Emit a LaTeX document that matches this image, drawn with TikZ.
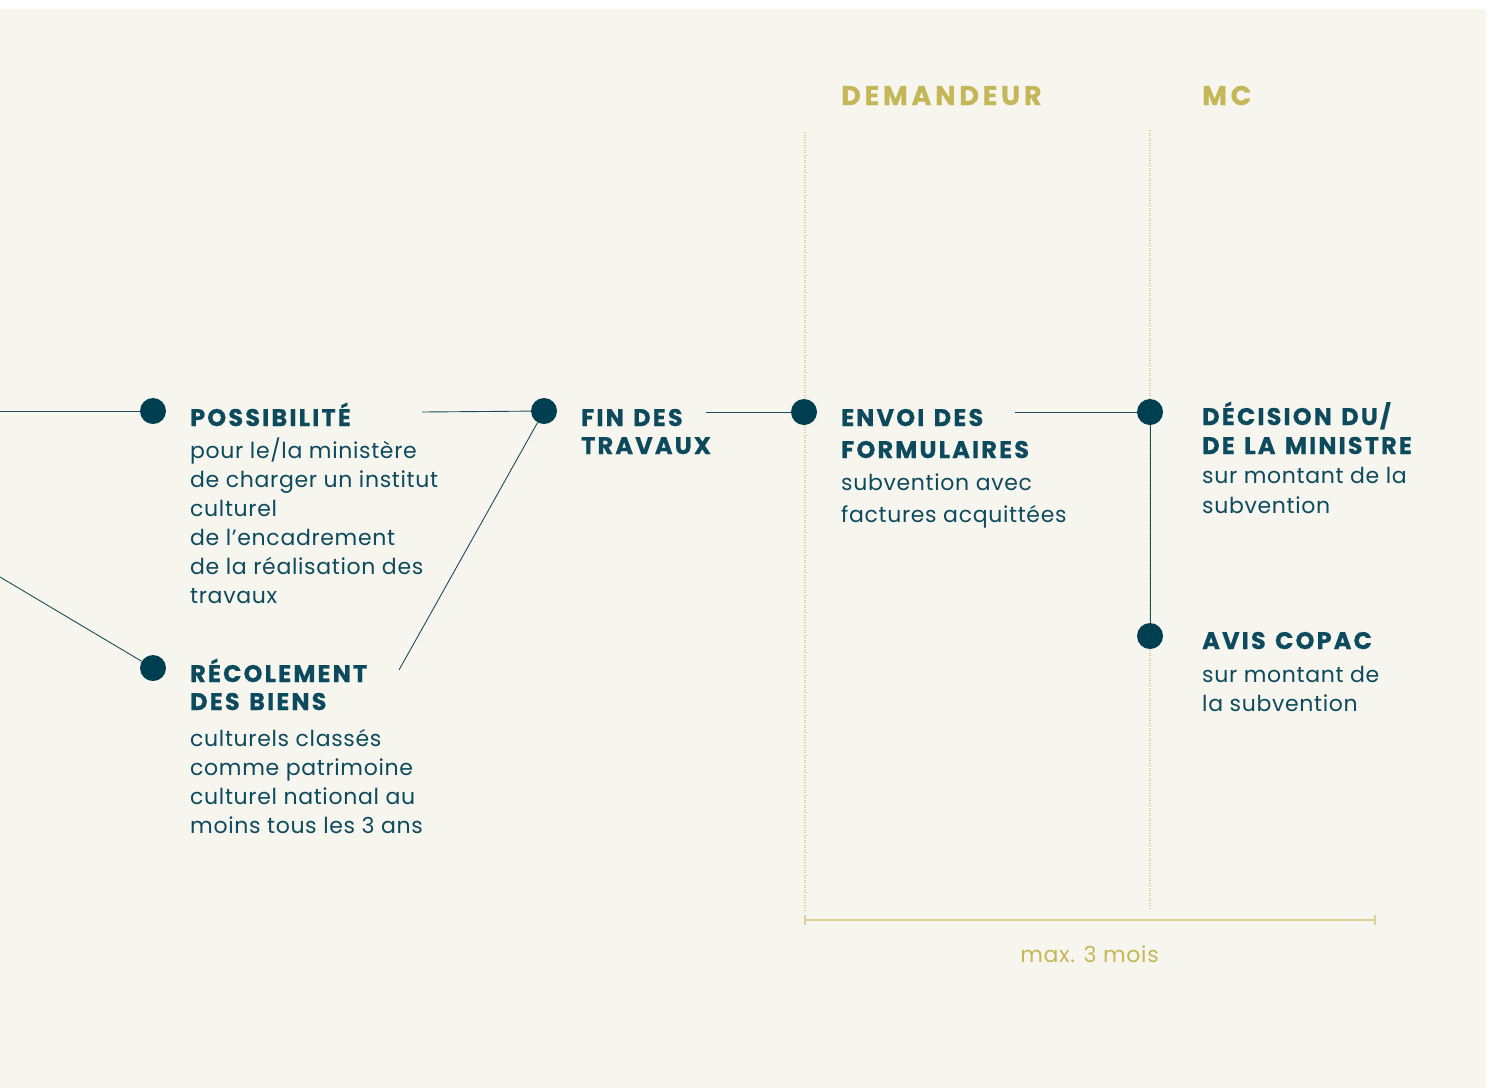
\documentclass[tikz,border=0pt]{standalone}
\usepackage{fontspec}
\setmainfont{Poppins}
\newfontfamily\bodyfont[LetterSpace=3]{Poppins}
\newfontfamily\titlefont[LetterSpace=9,WordSpace=1.3,FakeBold=0.6]{Poppins}
\newfontfamily\headfont[LetterSpace=14,FakeBold=0.4]{Poppins}
\definecolor{bgc}{HTML}{F6F6EE}
\definecolor{dotc}{HTML}{003F52}
\definecolor{linec}{HTML}{1C4C5E}
\definecolor{txtc}{HTML}{0D4A5E}
\definecolor{goldc}{HTML}{C5B758}
\definecolor{guidec}{HTML}{D8CE92}
\definecolor{barc}{HTML}{DCD196}
\newcommand\stk[2]{\vtop{\baselineskip=#1pt\relax #2}}
\newcommand\lin[1]{\hbox{#1}}
\tikzset{
  dot/.style={circle, fill=dotc, draw=none, minimum size=26pt, inner sep=0pt},
  conn/.style={draw=linec, line width=0.9pt},
  guide/.style={draw=guidec, line width=1.1pt, dash pattern=on 1pt off 1.5pt},
  bar/.style={draw=barc, line width=2pt},
  tick/.style={draw=barc, line width=1.2pt},
  ttl/.style={anchor=base west, inner sep=0pt, text=txtc, font=\titlefont\bfseries\fontsize{24}{28}\selectfont},
  bdy/.style={anchor=base west, inner sep=0pt, text=txtc, font=\bodyfont\fontsize{22}{29}\selectfont},
  hdr/.style={anchor=base west, inner sep=0pt, text=goldc, font=\headfont\bfseries\fontsize{27}{30}\selectfont},
  note/.style={anchor=base, inner sep=0pt, text=goldc, font=\bodyfont\fontsize{22}{29}\selectfont}
}
\begin{document}
\begin{tikzpicture}[x=1pt,y=-1pt]
\useasboundingbox (0,0) rectangle (1493,1088);
\fill[white] (0,0) rectangle (1493,1088);
\fill[bgc] (0,9) rectangle (1486,1088);

% guides
\coordinate (g1t) at (805,132); \coordinate (g1b) at (805,910);
\coordinate (g2t) at (1150,130); \coordinate (g2b) at (1150,909);
\draw[guide] (g1t) -- (g1b);
\draw[guide] (g2t) -- (g2b);

% bracket
\coordinate (bl) at (805,920); \coordinate (br) at (1375,920);
\coordinate (blt) at (805,915); \coordinate (blb) at (805,925);
\coordinate (brt) at (1375,915); \coordinate (brb) at (1375,925);
\draw[bar] (bl) -- (br);
\draw[tick] (blt) -- (blb);
\draw[tick] (brt) -- (brb);
\node[note] (max) at (1089.5,962) {max. 3 mois};

% headers
\node[hdr] (h1) at (841,105) {DEMANDEUR};
\node[hdr] (h2) at (1202,105) {MC};

% dots
\node[dot] (d1) at (153,411) {};
\node[dot] (d2) at (153,668) {};
\node[dot] (d3) at (544,411) {};
\node[dot] (d4) at (804,412) {};
\node[dot] (d5) at (1150,412) {};
\node[dot] (d6) at (1150,636) {};

% connector ends
\coordinate (e0) at (0,411);
\coordinate (e1) at (0,577);
\coordinate (c1) at (422,412);
\coordinate (c2) at (399,670);
\coordinate (c3) at (706,412);
\coordinate (c4) at (1015,412);

\draw[conn] (e0) -- (d1);
\draw[conn] (e1) -- (d2);
\draw[conn] (c1) -- (d3);
\draw[conn] (c2) -- (d3);
\draw[conn] (c3) -- (d4);
\draw[conn] (c4) -- (d5);
\draw[conn] (d5) -- (d6);

% texts
\node[ttl] (t1) at (190,426) {\stk{28}{\lin{POSSIBILITÉ}}};
\node[bdy] (b1) at (190,458) {\stk{29}{\lin{pour le/la ministère}\lin{de charger un institut}\lin{culturel}\lin{de l’encadrement}\lin{de la réalisation des}\lin{travaux}}};

\node[ttl] (t2) at (190,682) {\stk{28}{\lin{RÉCOLEMENT}\lin{DES BIENS}}};
\node[bdy] (b2) at (190,746) {\stk{29}{\lin{culturels classés}\lin{comme patrimoine}\lin{culturel national au}\lin{moins tous les 3 ans}}};

\node[ttl] (t3) at (581,426) {\stk{28}{\lin{FIN DES}\lin{TRAVAUX}}};

\node[ttl] (t4) at (841,426) {\stk{32}{\lin{ENVOI DES}\lin{FORMULAIRES}}};
\node[bdy] (b4) at (841,490) {\stk{32}{\lin{subvention avec}\lin{factures acquittées}}};

\node[ttl] (t5) at (1202,425) {\stk{29}{\lin{DÉCISION DU/}\lin{DE LA MINISTRE}}};
\node[bdy] (b5) at (1202,483) {\stk{30}{\lin{sur montant de la}\lin{subvention}}};

\node[ttl] (t6) at (1202,649) {\stk{29}{\lin{AVIS COPAC}}};
\node[bdy] (b6) at (1202,682) {\stk{29}{\lin{sur montant de}\lin{la subvention}}};
\end{tikzpicture}
\end{document}
